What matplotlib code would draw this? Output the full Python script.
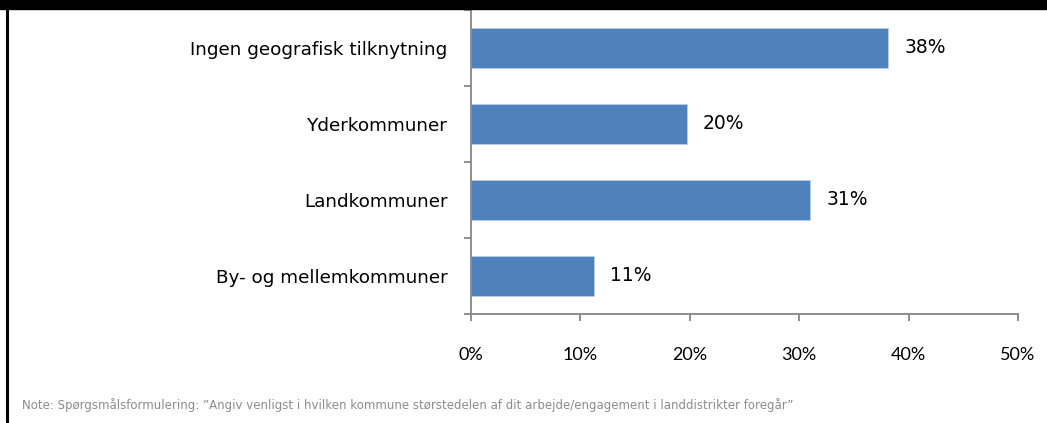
import matplotlib
matplotlib.use("Agg")
import matplotlib.pyplot as plt
from matplotlib.patches import Rectangle
from matplotlib.lines import Line2D
from matplotlib.ticker import FixedLocator

categories = ["Ingen geografisk tilknytning", "Yderkommuner", "Landkommuner", "By- og mellemkommuner"]
values = [38.1, 19.7, 31.0, 11.2]
labels = ["38%", "20%", "31%", "11%"]
xticks = [0, 10, 20, 30, 40, 50]
note = "Note: Spørgsmålsformulering: \u201dAngiv venligst i hvilken kommune størstedelen af dit arbejde/engagement i landdistrikter foregår\u201d"

bar_color = "#4f81bd"
axis_color = "#868686"

fig = plt.figure(figsize=(10.47, 4.23), dpi=100)
ax = fig.add_axes([0.4499, 0.2577, 0.5224, 0.7187])

pos = list(range(len(categories)))[::-1]
ax.barh(pos, values, height=0.53, color=bar_color, edgecolor="#b9cde5", linewidth=0.6)
for p, v, t in zip(pos, values, labels):
    ax.text(v + 1.5, p, t, va="center", ha="left", fontsize=13.5, color="#000000",
            family="DejaVu Sans")

ax.set_xlim(0, 50)
ax.set_ylim(-0.5, 3.5)
ax.set_xticks(xticks)
ax.set_xticklabels([f"{x}%" for x in xticks], family="Lato", fontsize=13)
ax.set_yticks(pos)
ax.set_yticklabels(categories, family="DejaVu Sans", fontsize=13.2)
ax.yaxis.set_minor_locator(FixedLocator([-0.5, 0.5, 1.5, 2.5, 3.5]))
ax.tick_params(axis="y", which="major", length=0, pad=17)
ax.tick_params(axis="y", which="minor", length=5, color=axis_color, width=1.3, direction="out")
ax.tick_params(axis="x", length=5, color=axis_color, width=1.3, direction="out", pad=19)

for s in ["top", "right"]:
    ax.spines[s].set_visible(False)
for s in ["left", "bottom"]:
    ax.spines[s].set_color(axis_color)
    ax.spines[s].set_linewidth(1.3)

# frame pieces: black top band and left border
fig.patches.append(Rectangle((0, 1 - 9 / 423), 1, 9 / 423, transform=fig.transFigure,
                             color="black", zorder=10))
fig.lines.append(Line2D([7 / 1047, 7 / 1047], [0, 1], transform=fig.transFigure,
                        color="black", linewidth=2.2))

fig.text(22 / 1047, 1 - 405 / 423, note, fontsize=8.5, color="#8c8c8c",
         family="DejaVu Sans", va="center", ha="left")

fig.savefig("out.png", dpi=100)
